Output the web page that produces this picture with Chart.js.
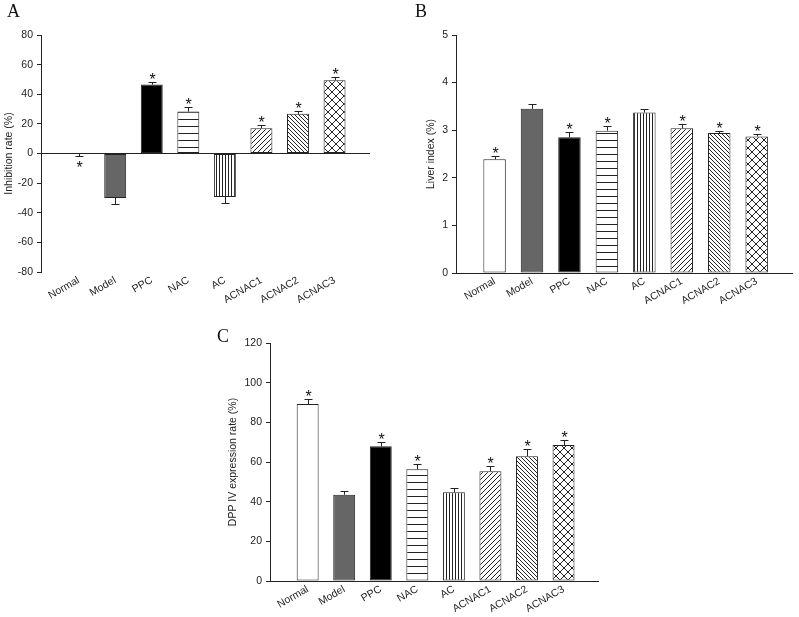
<!DOCTYPE html>
<html lang="en">
<head>
  <meta charset="UTF-8" />
  <title>Inhibition rate, liver index and DPP IV expression</title>
  <script src="https://cdn.jsdelivr.net/npm/chart.js"></script>
  <style>
    body { margin: 0; background: #fff; width: 799px; height: 617px; position: relative; overflow: hidden; }
    .panel { position: absolute; }
    .tag { position: absolute; font-family: "Liberation Serif", "Times New Roman", serif; font-size: 18px; line-height: 18px; color: #111; }
  </style>
</head>
<body>
  <div class="panel" style="left:0;top:0;width:400px;height:320px"><canvas id="chartA"></canvas></div>
  <div class="panel" style="left:400px;top:0;width:399px;height:320px"><canvas id="chartB"></canvas></div>
  <div class="panel" style="left:200px;top:300px;width:400px;height:317px"><canvas id="chartC"></canvas></div>
  <div class="tag" style="left:7px;top:2px">A</div>
  <div class="tag" style="left:415px;top:2px">B</div>
  <div class="tag" style="left:217px;top:327px">C</div>

  <script>
    // groups on the x axis
    const categories = ["Normal", "Model", "PPC", "NAC", "AC", "ACNAC1", "ACNAC2", "ACNAC3"];

    // A - inhibition rate (%)
    const inhibitionRate = [-0.3, -30, 46.5, 28.3, -29.4, 17.1, 26.8, 49.4];
    const inhibitionErr  = [1.5, 4.4, 2.0, 3.4, 4.0, 2.3, 2.2, 2.0];
    const inhibitionStar = [1, 0, 1, 1, 0, 1, 1, 1];
    const ticksA = [-80, -60, -40, -20, 0, 20, 40, 60, 80];

    // B - liver index (%)
    const liverIndex = [2.39, 3.45, 2.85, 2.99, 3.37, 3.04, 2.94, 2.87];
    const liverErr   = [0.07, 0.10, 0.11, 0.10, 0.08, 0.08, 0.04, 0.06];
    const liverStar  = [1, 0, 1, 1, 0, 1, 1, 1];
    const ticksB = [0, 1, 2, 3, 4, 5];

    // C - DPP IV expression rate (%)
    const dppRate = [89.2, 43.5, 67.9, 56.3, 44.7, 55.3, 62.9, 68.6];
    const dppErr  = [2.5, 1.8, 2.4, 2.5, 2.0, 2.5, 3.5, 2.4];
    const dppStar = [1, 0, 1, 1, 0, 1, 1, 1];
    const ticksC = [0, 20, 40, 60, 80, 100, 120];

    const FONT = '"Liberation Sans", Arial, sans-serif';
    const INK = "#222";

    function makePattern(w, h, draw) {
      const c = document.createElement("canvas");
      c.width = w; c.height = h;
      const g = c.getContext("2d");
      g.fillStyle = "#fff";
      g.fillRect(0, 0, w, h);
      g.strokeStyle = INK;
      g.lineWidth = 1;
      g.beginPath();
      draw(g, w, h);
      g.stroke();
      return g.createPattern(c, "repeat");
    }

    const hLines = makePattern(4, 7, g => { g.moveTo(0, 0.5); g.lineTo(4, 0.5); });
    const vLines = makePattern(3, 4, g => { g.moveTo(0.5, 0); g.lineTo(0.5, 4); });
    const slash = makePattern(5, 5, (g, s) => {
      g.moveTo(0, s); g.lineTo(s, 0);
      g.moveTo(-1, 1); g.lineTo(1, -1);
      g.moveTo(s - 1, s + 1); g.lineTo(s + 1, s - 1);
    });
    const backslash = makePattern(4, 4, (g, s) => {
      g.moveTo(0, 0); g.lineTo(s, s);
      g.moveTo(-1, s - 1); g.lineTo(1, s + 1);
      g.moveTo(s - 1, -1); g.lineTo(s + 1, 1);
    });
    const cross = makePattern(8, 8, (g, s) => {
      g.moveTo(0, 0); g.lineTo(s, s);
      g.moveTo(0, s); g.lineTo(s, 0);
    });
    const fills = ["#fff", "#666", "#000", hLines, vLines, slash, backslash, cross];

    // error whiskers (outward from the bar end) and significance stars
    const errorBars = {
      id: "errorBars",
      afterDatasetsDraw(chart) {
        const { ctx, scales: { x, y } } = chart;
        const ds = chart.data.datasets[0];
        ctx.save();
        ctx.strokeStyle = INK;
        ctx.lineWidth = 1;
        ctx.fillStyle = "#111";
        ctx.font = "16px " + FONT;
        ctx.textAlign = "center";
        ctx.textBaseline = "alphabetic";
        ds.data.forEach((pt, i) => {
          const dir = pt.y < 0 ? -1 : 1;
          const px = Math.round(x.getPixelForValue(pt.x)) + 0.5;
          const y0 = y.getPixelForValue(pt.y);
          const y1 = Math.round(y.getPixelForValue(pt.y + dir * ds.errors[i])) + 0.5;
          ctx.beginPath();
          ctx.moveTo(px, y0); ctx.lineTo(px, y1);
          ctx.moveTo(px - 4, y1); ctx.lineTo(px + 4, y1);
          ctx.stroke();
          if (ds.stars[i]) ctx.fillText("*", px, dir > 0 ? y1 + 2 : y1 + 16);
        });
        ctx.restore();
      }
    };

    function makeChart(id, values, errors, stars, yTicks, title, box) {
      new Chart(document.getElementById(id), {
        type: "bar",
        data: {
          datasets: [{
            data: values.map((v, i) => ({ x: i, y: v })),
            errors: errors,
            stars: stars,
            backgroundColor: fills,
            borderColor: INK,
            borderWidth: 1,
            borderSkipped: false,
            categoryPercentage: 1,
            barPercentage: 0.6
          }]
        },
        options: {
          responsive: true,
          maintainAspectRatio: false,
          animation: false,
          layout: { padding: { left: 0, top: box.top, right: box.right, bottom: 0 } },
          plugins: { legend: { display: false }, tooltip: { enabled: false } },
          scales: {
            x: {
              type: "linear",
              offset: false,
              min: -1.03,
              max: 7.97,
              grid: { display: false, drawTicks: false, offset: false },
              border: { display: false },
              afterBuildTicks: s => { s.ticks = categories.map((c, i) => ({ value: i })); },
              afterFit: s => { s.height = box.xh; },
              ticks: {
                autoSkip: false,
                minRotation: 30,
                maxRotation: 30,
                padding: 2,
                color: INK,
                font: { family: FONT, size: 10.5 },
                callback: v => categories[v]
              }
            },
            y: {
              min: yTicks[0],
              max: yTicks[yTicks.length - 1],
              afterBuildTicks: s => { s.ticks = yTicks.map(v => ({ value: v })); },
              afterFit: s => { s.width = box.yw; },
              border: { display: true, color: INK, width: 1 },
              grid: {
                color: c => (c.tick && c.tick.value === 0 ? INK : "transparent"),
                tickColor: INK,
                tickLength: 4
              },
              ticks: { padding: 4, color: INK, font: { family: FONT, size: 10.5 } },
              title: {
                display: true,
                text: title,
                color: INK,
                padding: { top: box.tp, bottom: 0 },
                font: { family: FONT, size: 10.5 }
              }
            }
          }
        },
        plugins: [errorBars]
      });
    }

    makeChart("chartA", inhibitionRate, inhibitionErr, inhibitionStar, ticksA, "Inhibition rate (%)",
      { top: 35, right: 30, xh: 48, yw: 41, tp: 2.7 });
    makeChart("chartB", liverIndex, liverErr, liverStar, ticksB, "Liver index (%)",
      { top: 35, right: 6, xh: 47, yw: 56, tp: 24.5 });
    makeChart("chartC", dppRate, dppErr, dppStar, ticksC, "DPP IV expression rate (%)",
      { top: 43, right: 1, xh: 36, yw: 70, tp: 26.5 });
  </script>
</body>
</html>
